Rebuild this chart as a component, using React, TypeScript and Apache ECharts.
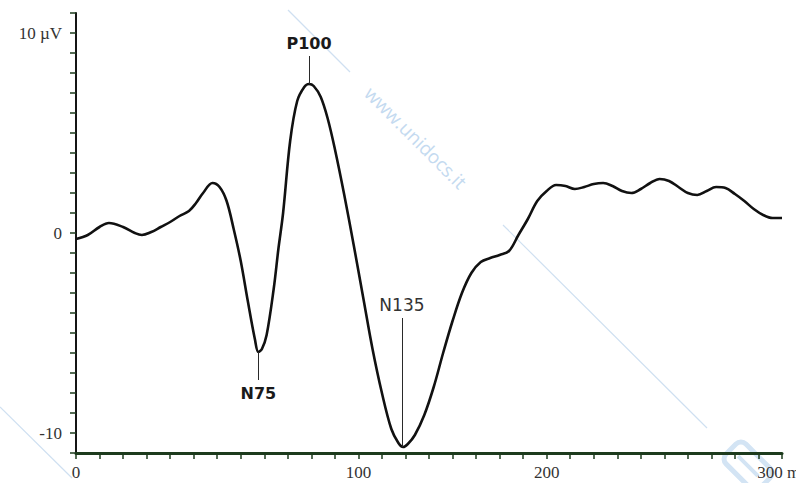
import React, { useEffect, useRef } from 'react';
import * as echarts from 'echarts';

// latency (ms)
const times = [0, 5, 10, 14, 20, 25, 28, 32, 36, 40, 44, 48, 51, 54, 58, 61, 64, 67, 70, 73, 76, 77.5, 79, 81, 84, 86, 88, 91, 94, 97, 99, 101, 104, 107, 110, 114, 118, 122, 126, 130, 134, 137, 139, 141, 144, 148, 152, 156, 160, 164, 168, 172, 176, 180, 184, 188, 192, 196, 200, 204, 208, 212, 216, 220, 224, 228, 232, 236, 240, 244, 248, 252, 256, 260, 264, 268, 272, 276, 280, 284, 288, 292, 296, 300];
// amplitude (µV)
const amplitudes = [-0.3, -0.1, 0.3, 0.5, 0.3, 0.0, -0.1, 0.05, 0.3, 0.55, 0.85, 1.1, 1.5, 2.0, 2.5, 2.3, 1.6, 0.2, -1.4, -3.4, -5.3, -5.95, -5.8, -5.1, -2.8, -0.8, 1.0, 4.6, 6.6, 7.3, 7.45, 7.35, 6.8, 5.7, 4.2, 1.9, -0.6, -3.2, -5.8, -8.0, -9.8, -10.5, -10.7, -10.55, -10.1, -9.1, -7.7, -6.0, -4.4, -3.0, -2.0, -1.45, -1.25, -1.1, -0.9, -0.1, 0.7, 1.6, 2.1, 2.4, 2.35, 2.2, 2.3, 2.45, 2.5, 2.35, 2.1, 2.0, 2.2, 2.5, 2.7, 2.6, 2.3, 2.0, 1.9, 2.1, 2.3, 2.25, 1.95, 1.6, 1.2, 0.9, 0.75, 0.75];

// component annotations
const peakNames = ['N75', 'P100', 'N135'];
const peakTimes = [77.5, 99, 138.5];
const peakFrom = [-5.95, 7.45, -10.7];
const peakTo = [-7.35, 8.85, -4.25];
const peakBold = [true, true, false];

// axis tick labels
const xTickLabels: Record<number, string> = { 0: '0', 120: '100', 200: '200', 300: '300 ms' };
const yTickLabels: Record<string, string> = { '10': '10 µV', '0': '0', '-10': '-10' };

const wmColor = '#cfe0f1';

export default function App() {
  const ref = useRef<HTMLDivElement>(null);
  useEffect(() => {
    const chart = echarts.init(ref.current!, null, { renderer: 'svg' });
    const data = times.map((t, i) => [t, amplitudes[i]]);
    const option: any = {
      animation: false,
      backgroundColor: '#ffffff',
      grid: { left: 76, right: 14, top: 13, bottom: 30, containLabel: false, outerBoundsMode: 'none' },
      xAxis: {
        type: 'value',
        min: 0,
        max: 300,
        interval: 10,
        axisLine: { show: true, onZero: false, lineStyle: { color: '#1d3b1d', width: 3 } },
        axisTick: { show: true, length: 6, lineStyle: { color: '#1d3b1d', width: 1.5 } },
        axisLabel: {
          show: true,
          margin: 11,
          showMinLabel: true,
          showMaxLabel: true,
          alignMaxLabel: 'center',
          fontFamily: 'Liberation Serif',
          fontSize: 17,
          color: '#333',
          formatter: (v: number) => xTickLabels[Math.round(v)] ?? '',
        },
        splitLine: { show: false },
      },
      yAxis: {
        type: 'value',
        min: -11,
        max: 11,
        interval: 1,
        axisLine: { show: true, lineStyle: { color: '#151515', width: 2 } },
        axisTick: { show: true, length: 6, lineStyle: { color: '#1d3b1d', width: 1.5 } },
        axisLabel: {
          show: true,
          margin: 14,
          fontFamily: 'Liberation Serif',
          fontSize: 17,
          color: '#333',
          formatter: (v: number) => yTickLabels[String(Math.round(v))] ?? '',
        },
        splitLine: { show: false },
      },
      series: [
        {
          type: 'line',
          data,
          smooth: 0.35,
          symbol: 'none',
          lineStyle: { color: '#111', width: 2.6 },
          markLine: {
            silent: true,
            symbol: 'none',
            animation: false,
            lineStyle: { color: '#2a2a2a', width: 1, type: 'solid' },
            label: {
              show: true,
              position: 'end',
              formatter: '{b}',
              fontFamily: 'DejaVu Sans',
              fontSize: 16,
              color: '#1a1a1a',
            },
            data: peakNames.map((name, i) => [
              {
                name,
                coord: [peakTimes[i], peakFrom[i]],
                label: {
                  fontWeight: peakBold[i] ? 'bold' : 'normal',
                  fontSize: peakBold[i] ? 16 : 17,
                  color: peakBold[i] ? '#1a1a1a' : '#333',
                  distance: 5,
                },
              },
              { coord: [peakTimes[i], peakTo[i]] },
            ]),
          },
        },
      ],
      graphic: [
        { type: 'line', silent: true, z: -1, shape: { x1: 0, y1: 407, x2: 72, y2: 478 }, style: { stroke: wmColor, lineWidth: 1.2 } },
        { type: 'line', silent: true, z: -1, shape: { x1: 288, y1: 10, x2: 350, y2: 72 }, style: { stroke: wmColor, lineWidth: 1.2 } },
        { type: 'line', silent: true, z: -1, shape: { x1: 503, y1: 225, x2: 707, y2: 428 }, style: { stroke: wmColor, lineWidth: 1.2 } },
        {
          type: 'text',
          silent: true,
          z: -1,
          x: 368,
          y: 90,
          rotation: -Math.PI / 4,
          style: {
            text: 'www.unidocs.it',
            fill: '#c4daf0',
            font: '19px "Open Sans"',
            textAlign: 'left',
            textVerticalAlign: 'middle',
          },
        },
        {
          type: 'group',
          silent: true,
          x: 748,
          y: 466,
          rotation: -Math.PI / 4,
          children: [
            { type: 'rect', shape: { x: -24, y: -14, width: 48, height: 28, r: 7 }, style: { fill: 'none', stroke: '#d3e4f4', lineWidth: 5 } },
            { type: 'line', shape: { x1: -14, y1: 0, x2: 14, y2: 0 }, style: { stroke: '#d3e4f4', lineWidth: 4 } },
          ],
        },
      ],
    };
    chart.setOption(option);
    return () => chart.dispose();
  }, []);
  return (
    <div
      ref={ref}
      style={{ position: 'absolute', left: 0, top: 0, width: 796, height: 483, background: '#fff' }}
    />
  );
}
